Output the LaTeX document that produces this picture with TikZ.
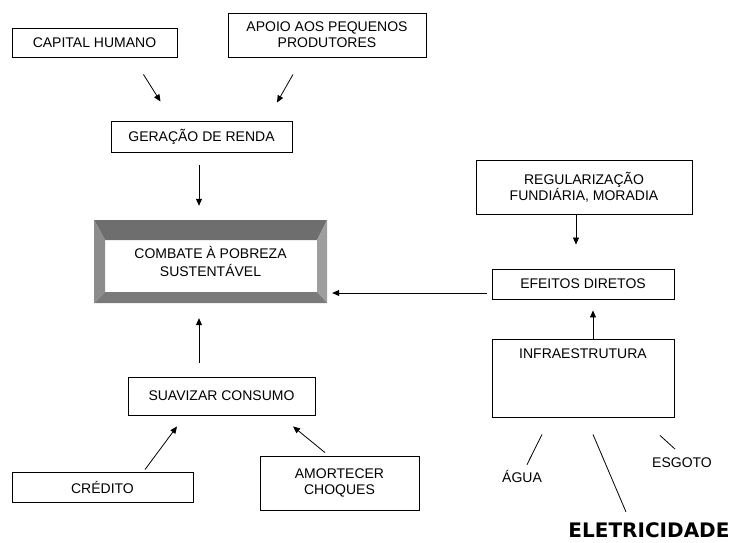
\documentclass[tikz,border=0pt]{standalone}
\usepackage{fontspec}
\setmainfont{Liberation Sans}
\newfontfamily\heavyfont{DejaVu Sans}
\usetikzlibrary{arrows.meta}

\begin{document}
\begin{tikzpicture}[
    x=1pt, y=-1pt,
    >={Triangle[length=7pt,width=6pt]},
    boxnode/.style={draw=black, line width=0.9pt, fill=white, align=center,
                    inner sep=0pt, font=\fontsize{14}{16}\selectfont},
    bevelnode/.style={inner sep=0pt, align=center,
                      font=\fontsize{14}{18}\selectfont},
    textnode/.style={inner sep=2pt, anchor=base,
                     font=\fontsize{14}{16}\selectfont},
    flowarrow/.style={->, line width=0.8pt},
    linkline/.style={line width=0.8pt}
]
\useasboundingbox (0,0) rectangle (737,543);

\node[boxnode, minimum width=165pt, minimum height=29pt] (capital) at (94.5,42.5) {CAPITAL HUMANO};
\node[boxnode, minimum width=198pt, minimum height=44pt] (apoio)   at (327,35)    {APOIO AOS PEQUENOS\\PRODUTORES};
\node[boxnode, minimum width=181pt, minimum height=31pt] (geracao) at (201.5,136.5) {GERAÇÃO DE RENDA};
\node[boxnode, minimum width=216pt, minimum height=54pt] (regul)   at (584,187)   {REGULARIZAÇÃO\\FUNDIÁRIA, MORADIA};
\node[boxnode, minimum width=182pt, minimum height=30pt] (efeitos) at (583,284)   {EFEITOS DIRETOS};
\node[boxnode, minimum width=182pt, text height=19pt, text depth=59pt] (infra) at (583,378) {INFRAESTRUTURA};
\node[boxnode, minimum width=187pt, minimum height=38pt] (suavizar) at (221.5,396) {SUAVIZAR CONSUMO};
\node[boxnode, minimum width=181pt, minimum height=30pt] (credito) at (102.5,487) {CRÉDITO};
\node[boxnode, minimum width=159pt, minimum height=54pt] (amort)   at (339.5,483) {AMORTECER\\CHOQUES};

% beveled frame
\fill[black!57] (94,220) -- (327,220) -- (317,240) -- (105,240) -- cycle;
\fill[black!45] (94,220) -- (105,240) -- (105,292) -- (94,303) -- cycle;
\fill[black!38] (327,220) -- (317,240) -- (317,292) -- (327,303) -- cycle;
\fill[black!52] (94,303) -- (105,292) -- (317,292) -- (327,303) -- cycle;
\node[bevelnode, minimum width=233pt, minimum height=83pt] (combate) at (210.5,261.5)
  {COMBATE À POBREZA\\SUSTENTÁVEL};

\node[textnode] (agua)   at (522,482) {ÁGUA};
\node[textnode] (esgoto) at (682,467) {ESGOTO};
\node[textnode, inner sep=0pt, font=\heavyfont\bfseries\fontsize{20}{22}\selectfont]
  (elet) at (649,537) {ELETRICIDADE};

\draw[flowarrow] ([xshift=-34pt,yshift=-17pt]capital.south east) -- ([xshift=-41pt,yshift=19pt]geracao.north);
\draw[flowarrow] ([xshift=-34pt,yshift=-17pt]apoio.south) -- ([xshift=75.5pt,yshift=18pt]geracao.north);
\draw[flowarrow] ([xshift=-2.5pt,yshift=-13pt]geracao.south) -- ([xshift=-11.5pt,yshift=14pt]combate.north);
\draw[flowarrow] ([xshift=-8pt]regul.south) -- ([xshift=-7pt,yshift=24pt]efeitos.north);
\draw[flowarrow] ([xshift=-5pt,yshift=-9pt]efeitos.west) -- ([xshift=5pt,yshift=-31.5pt]combate.east);
\draw[flowarrow] ([xshift=10pt]infra.north) -- ([xshift=10pt,yshift=-11pt]efeitos.south);
\draw[flowarrow] ([xshift=-22.5pt,yshift=14pt]suavizar.north) -- ([xshift=-11.5pt,yshift=-15pt]combate.south);
\draw[flowarrow] ([xshift=42.5pt,yshift=2pt]credito.north) -- ([xshift=-44.5pt,yshift=-11pt]suavizar.south);
\draw[flowarrow] ([xshift=-14.5pt,yshift=3pt]amort.north) -- ([xshift=71.5pt,yshift=-11pt]suavizar.south);

\draw[linkline] ([xshift=-41pt,yshift=-17pt]infra.south) -- ([xshift=5pt,yshift=3pt]agua.north);
\draw[linkline] ([xshift=10pt,yshift=-17pt]infra.south) -- ([xshift=-23pt,yshift=10pt]elet.north);
\draw[linkline] ([xshift=77pt,yshift=-18pt]infra.south) -- ([xshift=-7pt,yshift=6pt]esgoto.north);

\end{tikzpicture}
\end{document}
